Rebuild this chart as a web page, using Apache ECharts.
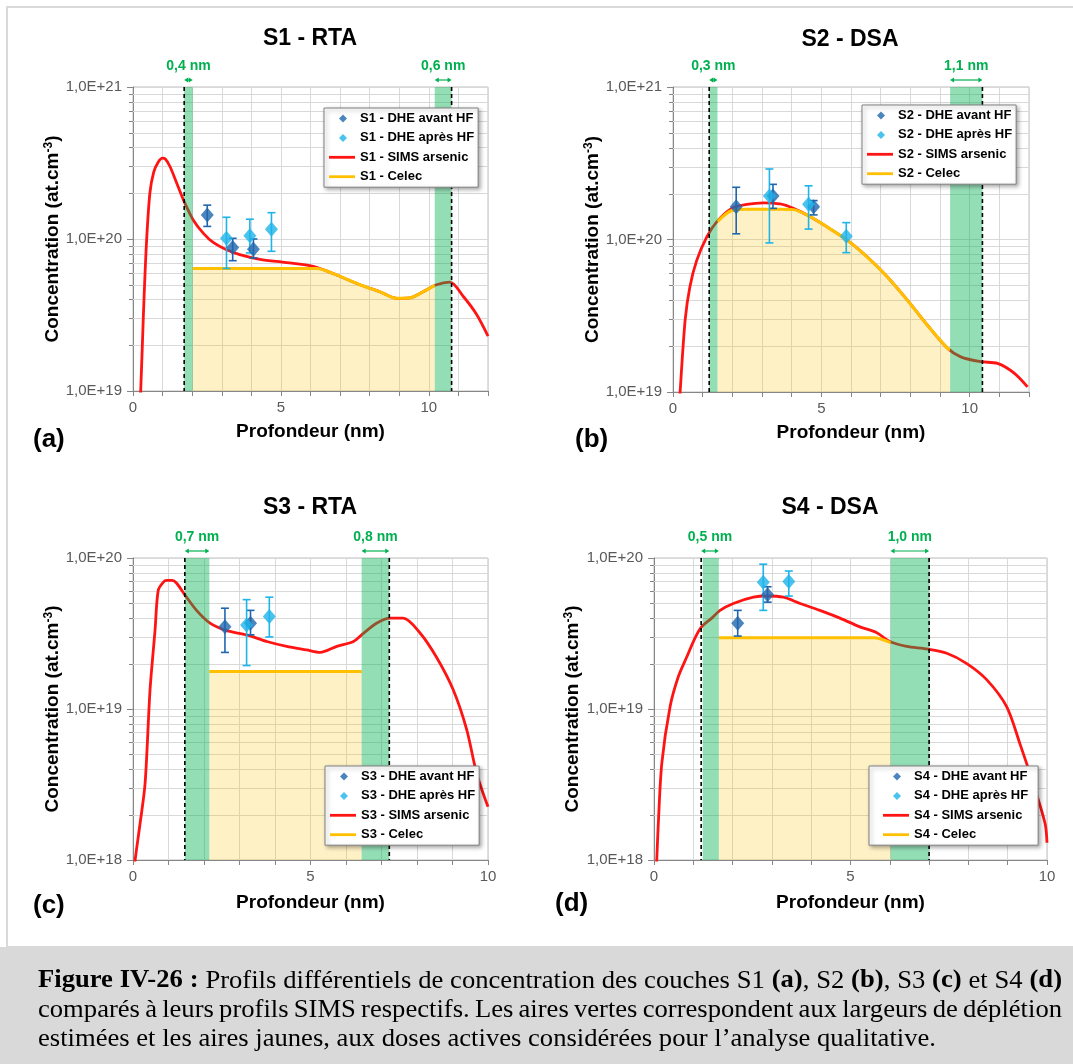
<!DOCTYPE html>
<html><head><meta charset="utf-8">
<script src="https://cdn.jsdelivr.net/npm/echarts@6/dist/echarts.min.js"></script>
<style>html,body{margin:0;padding:0;background:#fff}#c{width:1073px;height:1064px}</style>
</head><body><div id="c"></div>
<script>
// ---------------- DATA ----------------
const titles = ['S1 - RTA', 'S2 - DSA', 'S3 - RTA', 'S4 - DSA'];
const letters = ['(a)', '(b)', '(c)', '(d)'];
const sampleKeys = ['S1', 'S2', 'S3', 'S4'];
const xMaxes = [12, 12, 10, 10];
const yMins = [1e19, 1e19, 1e18, 1e18];
const yMaxs = [1e21, 1e21, 1e20, 1e20];
const xTickLabels = [0, 5, 10];

// SIMS arsenic profiles [depth nm, concentration]
const S1_sims = [[0.22,8e18],[0.26,1.0e19],[0.35,3.1e19],[0.45,9.0e19],[0.57,2.0e20],[0.7,2.75e20],[0.85,3.2e20],[1.0,3.4e20],[1.1,3.35e20],[1.25,3.0e20],[1.53,2.2e20],[1.73,1.76e20],[2.04,1.33e20],[2.38,1.09e20],[2.71,9.5e19],[3.16,8.5e19],[3.61,7.9e19],[4.29,7.35e19],[5.19,7.0e19],[6.09,6.6e19],[6.88,5.8e19],[7.67,5.0e19],[8.34,4.5e19],[8.91,4.07e19],[9.36,4.1e19],[9.81,4.5e19],[10.26,5.0e19],[10.71,5.2e19],[11.16,4.2e19],[11.61,3.2e19],[12.0,2.3e19]];
const S2_sims = [[0.22,8e18],[0.24,1.0e19],[0.41,2.97e19],[0.57,4.9e19],[0.8,7.3e19],[1.14,1.04e20],[1.48,1.31e20],[1.98,1.6e20],[2.49,1.7e20],[3.05,1.74e20],[3.61,1.71e20],[4.06,1.6e20],[4.63,1.41e20],[5.19,1.21e20],[5.87,9.9e19],[6.54,7.7e19],[7.22,5.7e19],[7.9,4.0e19],[8.57,2.75e19],[9.25,1.94e19],[9.7,1.7e19],[10.37,1.58e19],[10.94,1.54e19],[11.5,1.33e19],[11.95,1.08e19]];
const S3_sims = [[0.05,9e17],[0.06,1.0e18],[0.2,1.75e18],[0.34,3.2e18],[0.48,1.34e19],[0.62,3.3e19],[0.71,6.1e19],[0.85,6.9e19],[0.95,7.1e19],[1.1,7.1e19],[1.23,6.8e19],[1.46,5.7e19],[1.79,4.5e19],[2.17,3.7e19],[2.64,3.3e19],[3.2,3.1e19],[3.77,2.8e19],[4.33,2.6e19],[4.89,2.46e19],[5.27,2.37e19],[5.74,2.6e19],[6.21,2.8e19],[6.44,3.1e19],[6.86,3.7e19],[7.24,4.0e19],[7.61,4.0e19],[8.08,3.2e19],[8.55,2.2e19],[9.02,1.34e19],[9.4,7.3e18],[9.68,3.75e18],[10.0,2.25e18]];
const S4_sims = [[0.06,9e17],[0.07,1.0e18],[0.11,1.75e18],[0.2,4.4e18],[0.41,1.04e19],[0.62,1.64e19],[0.83,2.2e19],[1.04,2.94e19],[1.21,3.5e19],[1.47,4.0e19],[1.68,4.5e19],[2.02,5.0e19],[2.53,5.5e19],[2.87,5.6e19],[3.29,5.5e19],[3.72,5.0e19],[4.22,4.5e19],[4.73,4.0e19],[5.24,3.5e19],[5.67,3.2e19],[6.0,2.8e19],[6.43,2.6e19],[6.94,2.5e19],[7.45,2.34e19],[7.96,2.0e19],[8.47,1.56e19],[8.97,1.04e19],[9.31,5.9e18],[9.65,3.2e18],[9.95,1.75e18],[10.0,1.3e18]];

// Celec (active dose) profiles
const S1_celec = [[2.02,6.4e19],[6.2,6.4e19],[6.88,5.8e19],[7.67,5.0e19],[8.34,4.5e19],[8.91,4.07e19],[9.36,4.1e19],[9.81,4.5e19],[10.2,4.95e19]];
const S2_celec = [[1.5,1.31e20],[1.98,1.55e20],[2.5,1.58e20],[3.6,1.58e20],[4.06,1.57e20],[4.63,1.41e20],[5.19,1.21e20],[5.87,9.9e19],[6.54,7.7e19],[7.22,5.7e19],[7.9,4.0e19],[8.57,2.75e19],[9.25,1.94e19],[9.34,1.9e19]];
const S3_celec = [[2.15,1.77e19],[6.44,1.77e19]];
const S4_celec = [[1.65,2.96e19],[5.6,2.96e19],[6.02,2.75e19]];

// DHE points [depth, conc, errLow, errHigh]
const S1_avant = [[2.51,1.44e20,1.21e20,1.67e20],[3.37,8.8e19,7.2e19,1.01e20],[4.07,8.55e19,7.5e19,1.0e20]];
const S1_apres = [[3.16,1.01e20,6.4e19,1.39e20],[3.95,1.05e20,8.1e19,1.35e20],[4.68,1.16e20,8.3e19,1.49e20]];
const S2_avant = [[2.13,1.64e20,1.09e20,2.2e20],[3.37,1.93e20,1.6e20,2.3e20],[4.74,1.64e20,1.45e20,1.8e20]];
const S2_apres = [[3.25,1.93e20,9.5e19,2.9e20],[4.57,1.7e20,1.17e20,2.25e20],[5.84,1.05e20,8.2e19,1.29e20]];
const S3_avant = [[2.59,3.5e19,2.37e19,4.65e19],[3.31,3.7e19,3.1e19,4.5e19]];
const S3_apres = [[3.2,3.6e19,1.94e19,5.3e19],[3.84,4.1e19,3.0e19,5.5e19]];
const S4_avant = [[2.13,3.7e19,3.04e19,4.5e19],[2.89,5.7e19,5.1e19,6.45e19]];
const S4_apres = [[2.78,6.9e19,4.5e19,9.1e19],[3.43,7.0e19,5.6e19,8.2e19]];

// depletion bands [x0, x1, dashed-line x]
const S1_bands = [[1.73,2.02,1.73],[10.2,10.77,10.77]];
const S2_bands = [[1.22,1.5,1.22],[9.34,10.43,10.43]];
const S3_bands = [[1.46,2.15,1.46],[6.44,7.22,7.22]];
const S4_bands = [[1.24,1.65,1.2],[6.02,7.0,7.0]];
const S1_bandLabels = ['0,4 nm','0,6 nm'];
const S2_bandLabels = ['0,3 nm','1,1 nm'];
const S3_bandLabels = ['0,7 nm','0,8 nm'];
const S4_bandLabels = ['0,5 nm','1,0 nm'];

const captionLines = [
  [['Figure IV-26 :',1],[' Profils différentiels de concentration des couches S1 ',0],['(a)',1],[', S2 ',0],['(b)',1],[', S3 ',0],['(c)',1],[' et S4 ',0],['(d)',1]],
  [['comparés à leurs profils SIMS respectifs. Les aires vertes correspondent aux largeurs de déplétion',0]],
  [['estimées et les aires jaunes, aux doses actives considérées pour l’analyse qualitative.',0]]
];

// ---------------- LAYOUT ----------------
const FONT = '"Liberation Sans", Arial, Helvetica, sans-serif';
const SERIF = '"Liberation Serif", "Times New Roman", serif';
const layout = [
  {grid:{left:133,top:87,width:355,height:304}, tx:310, ty:39, lx:33, ly:440, leg:{left:324,top:108,padding:[4,4,4,5]}, gapX:31, gapY:71},
  {grid:{left:673,top:87,width:356,height:305}, tx:850, ty:40, lx:575, ly:440, leg:{left:862,top:105,padding:[4,4,4,5]}, gapX:31, gapY:71},
  {grid:{left:133,top:558,width:355,height:302}, tx:310, ty:508, lx:33, ly:906, leg:{left:325,top:766,padding:[4,4,4,5]}, gapX:33, gapY:71},
  {grid:{left:654,top:558,width:393,height:302}, tx:830, ty:508, lx:555, ly:904, leg:{left:869,top:766,padding:[4,10,4,14]}, gapX:33, gapY:72}
];
const sims = [S1_sims,S2_sims,S3_sims,S4_sims];
const celec = [S1_celec,S2_celec,S3_celec,S4_celec];
const avant = [S1_avant,S2_avant,S3_avant,S4_avant];
const apres = [S1_apres,S2_apres,S3_apres,S4_apres];
const bands = [S1_bands,S2_bands,S3_bands,S4_bands];
const bandLabels = [S1_bandLabels,S2_bandLabels,S3_bandLabels,S4_bandLabels];

const C_RED = '#ff1414', C_YEL = '#ffc000', C_DARK = '#1f66ae', C_LIGHT = '#1db4ea';
const C_GREEN_BAND = 'rgba(0,176,80,0.42)', C_GREEN_TXT = '#00b050';
const GRID_C = '#d9d9d9', AX_C = '#868686';
const DIAMOND = 'path://M0,0M26,12M14,2L18,6L14,10L10,6Z';
const LINEICON = 'path://M0,0M26,12M0,4.6L26,4.6L26,7.4L0,7.4Z';

const grids = [], xAxes = [], yAxes = [], series = [], legends = [], graphics = [];

function crisp(v){ return Math.round(v) + 0.5; }

layout.forEach((L, i) => {
  const key = sampleKeys[i];
  const xMax = xMaxes[i], yMin = yMins[i], yMax = yMaxs[i];
  grids.push(Object.assign({show:true, borderColor:'#bfbfbf', borderWidth:1, backgroundColor:'transparent', containLabel:false}, L.grid));
  xAxes.push({
    type:'value', gridIndex:i, min:0, max:xMax, interval:1,
    name:'Profondeur (nm)', nameLocation:'middle', nameGap:L.gapX,
    nameTextStyle:{fontFamily:FONT, fontSize:19, fontWeight:'bold', color:'#000'},
    axisLine:{show:true, onZero:false, lineStyle:{color:AX_C, width:1}},
    axisTick:{show:true, length:5, lineStyle:{color:AX_C}},
    axisLabel:{fontFamily:FONT, fontSize:15, color:'#595959', margin:9,
      formatter: v => xTickLabels.indexOf(v) >= 0 ? String(v) : ''},
    splitLine:{show:true, lineStyle:{color:GRID_C, width:1}}
  });
  yAxes.push({
    type:'log', logBase:10, gridIndex:i, min:yMin, max:yMax,
    name:'Concentration (at.cm{sup|-3})', nameLocation:'middle', nameGap:L.gapY, nameRotate:90,
    nameTextStyle:{fontFamily:FONT, fontSize:19, fontWeight:'bold', color:'#000',
      rich:{sup:{fontFamily:FONT, fontSize:12, fontWeight:'bold', color:'#000', verticalAlign:'top', lineHeight:12}}},
    axisLine:{show:true, onZero:false, lineStyle:{color:AX_C, width:1}},
    axisTick:{show:true, length:6, lineStyle:{color:AX_C}},
    axisLabel:{fontFamily:FONT, fontSize:15, color:'#595959', margin:11,
      formatter: v => '1,0E+' + Math.round(Math.log10(v))},
    splitLine:{show:true, lineStyle:{color:GRID_C, width:1}}
  });

  // minor log grid lines + minor ticks
  const minors = [];
  for (let d = Math.round(Math.log10(yMin)); d < Math.round(Math.log10(yMax)); d++)
    for (let k = 2; k <= 9; k++) minors.push([0, k * Math.pow(10, d)]);
  series.push({
    type:'custom', xAxisIndex:i, yAxisIndex:i, z:1, silent:true, clip:false,
    data:minors, encode:{x:0, y:1},
    renderItem:(params, api) => {
      const v = api.value(1);
      const a = api.coord([0, v]), b = api.coord([xMax, v]);
      const y = crisp(a[1]);
      return {type:'group', children:[
        {type:'line', shape:{x1:a[0], y1:y, x2:b[0], y2:y}, style:{stroke:GRID_C, lineWidth:1}},
        {type:'line', shape:{x1:a[0]-4, y1:y, x2:a[0], y2:y}, style:{stroke:AX_C, lineWidth:1}}
      ]};
    }
  });

  const nSims = key + ' - SIMS arsenic', nCel = key + ' - Celec';
  const nAv = key + ' - DHE avant HF', nAp = key + ' - DHE après HF';

  series.push({name:nSims, type:'line', xAxisIndex:i, yAxisIndex:i, data:sims[i], symbol:'none', smooth:0.3,
    lineStyle:{color:C_RED, width:2.8}, itemStyle:{color:C_RED}, z:3, silent:true});
  series.push({name:nCel, type:'line', xAxisIndex:i, yAxisIndex:i, data:celec[i], symbol:'none', smooth:0.3,
    lineStyle:{color:C_YEL, width:3}, itemStyle:{color:C_YEL},
    areaStyle:{color:'rgba(255,192,0,0.32)', origin:'start'}, z:4, silent:true});

  // depletion bands, dashed limits and width annotations
  const bl = bandLabels[i];
  series.push({
    type:'custom', xAxisIndex:i, yAxisIndex:i, z:5, silent:true, clip:false,
    data:bands[i].map(b => [b[0], yMin, b[1], b[2]]), encode:{x:0, y:1},
    renderItem:(params, api) => {
      const x0 = api.value(0), x1 = api.value(2), dx = api.value(3);
      const a = api.coord([x0, yMax]), b = api.coord([x1, yMin]);
      const d1 = api.coord([dx, yMax]), d2 = api.coord([dx, yMin]);
      const lo = Math.min(x0, dx), hi = Math.max(x1, dx);
      const pL = api.coord([lo, yMax])[0], pR = api.coord([hi, yMax])[0];
      const ay = a[1] - 7, cx = (pL + pR) / 2;
      const head = 4, hw = 2.6;
      return {type:'group', children:[
        {type:'rect', shape:{x:a[0], y:a[1], width:b[0]-a[0], height:b[1]-a[1]}, style:{fill:C_GREEN_BAND}},
        {type:'line', shape:{x1:d1[0], y1:d1[1], x2:d2[0], y2:d2[1]}, style:{stroke:'#000', lineWidth:1.6, lineDash:[4,3]}},
        {type:'line', shape:{x1:pL+2, y1:ay, x2:pR-2, y2:ay}, style:{stroke:C_GREEN_TXT, lineWidth:1.2}},
        {type:'polygon', shape:{points:[[pL,ay],[pL+head,ay-hw],[pL+head,ay+hw]]}, style:{fill:C_GREEN_TXT}},
        {type:'polygon', shape:{points:[[pR,ay],[pR-head,ay-hw],[pR-head,ay+hw]]}, style:{fill:C_GREEN_TXT}},
        {type:'text', x:cx, y:a[1]-21, style:{text:bl[params.dataIndex], fill:C_GREEN_TXT,
          font:'bold 14px ' + FONT, align:'center', verticalAlign:'middle', textAlign:'center', textVerticalAlign:'middle'}}
      ]};
    }
  });

  // error bars
  [[avant[i], C_DARK], [apres[i], C_LIGHT]].forEach(([arr, col]) => {
    series.push({
      type:'custom', xAxisIndex:i, yAxisIndex:i, z:6, silent:true, clip:false,
      data:arr, encode:{x:0, y:1},
      renderItem:(params, api) => {
        const x = api.value(0);
        const p1 = api.coord([x, api.value(3)]), p2 = api.coord([x, api.value(2)]);
        const w = 4, st = {stroke:col, lineWidth:1.6};
        return {type:'group', children:[
          {type:'line', shape:{x1:p1[0], y1:p1[1], x2:p2[0], y2:p2[1]}, style:st},
          {type:'line', shape:{x1:p1[0]-w, y1:p1[1], x2:p1[0]+w, y2:p1[1]}, style:st},
          {type:'line', shape:{x1:p2[0]-w, y1:p2[1], x2:p2[0]+w, y2:p2[1]}, style:st}
        ]};
      }
    });
  });
  series.push({name:nAv, type:'scatter', xAxisIndex:i, yAxisIndex:i, data:avant[i].map(p => [p[0], p[1]]),
    symbol:'diamond', symbolSize:[13,15], itemStyle:{color:C_DARK}, z:7, silent:true});
  series.push({name:nAp, type:'scatter', xAxisIndex:i, yAxisIndex:i, data:apres[i].map(p => [p[0], p[1]]),
    symbol:'diamond', symbolSize:[13,15], itemStyle:{color:C_LIGHT}, z:7, silent:true});

  legends.push({
    orient:'vertical', left:L.leg.left, top:L.leg.top, padding:L.leg.padding, z:20,
    itemGap:6.4, itemWidth:26, itemHeight:12, selectedMode:false,
    backgroundColor:'#fff', borderColor:'#808080', borderWidth:1,
    shadowBlur:4, shadowColor:'rgba(0,0,0,0.35)', shadowOffsetX:2, shadowOffsetY:2,
    textStyle:{fontFamily:FONT, fontSize:13, fontWeight:'bold', color:'#000'},
    data:[{name:nAv, icon:DIAMOND, itemStyle:{color:C_DARK}}, {name:nAp, icon:DIAMOND, itemStyle:{color:C_LIGHT}},
          {name:nSims, icon:LINEICON, itemStyle:{color:C_RED}}, {name:nCel, icon:LINEICON, itemStyle:{color:C_YEL}}]
  });

  graphics.push({type:'text', x:L.tx, y:L.ty, z:10, style:{text:titles[i], font:'bold 23px ' + FONT, fill:'#000',
    align:'center', verticalAlign:'middle', textAlign:'center', textVerticalAlign:'middle'}});
  graphics.push({type:'text', x:L.lx, y:L.ly, z:10, style:{text:letters[i], font:'bold 26px ' + FONT, fill:'#000',
    align:'left', verticalAlign:'middle', textAlign:'left', textVerticalAlign:'middle'}});
});

// frame + caption (justified lines, condensed serif)
graphics.push({type:'rect', z:0, shape:{x:7, y:7, width:1100, height:940}, style:{fill:'none', stroke:'#dadada', lineWidth:2}});
graphics.push({type:'rect', z:0, shape:{x:0, y:947, width:1073, height:117}, style:{fill:'#d9d9d9'}});
const CAP_SIZE = 25;
const mctx = document.createElement('canvas').getContext('2d');
function segW(t, b){ mctx.font = (b ? 'bold ' : '') + CAP_SIZE + 'px ' + SERIF; return mctx.measureText(t).width; }
function toWords(parts){
  const words = []; let cur = [];
  parts.forEach(([t, b]) => {
    t.split(' ').forEach((tok, j) => {
      if (j > 0) { if (cur.length) words.push(cur); cur = []; }
      if (tok !== '') cur.push([tok, b]);
    });
  });
  if (cur.length) words.push(cur);
  return words;
}
const capLeft = 38, capRight = 1062, lastLineEnd = 936;
const lineWords = captionLines.map(toWords);
const spaceW = segW(' ', 0);
const natLast = lineWords[2].reduce((s, w) => s + w.reduce((a, [t, b]) => a + segW(t, b), 0), 0) + spaceW * (lineWords[2].length - 1);
const capScale = (lastLineEnd - capLeft) / natLast;
const capY = [981, 1010, 1039];
lineWords.forEach((words, k) => {
  const widths = words.map(w => w.reduce((a, [t, b]) => a + segW(t, b), 0) * capScale);
  const total = widths.reduce((a, b) => a + b, 0);
  const gap = k < 2 ? (capRight - capLeft - total) / (words.length - 1) : spaceW * capScale;
  let x = capLeft;
  words.forEach((w, j) => {
    const txt = w.map(([t, b]) => '{' + (b ? 'b' : 'n') + '|' + t + '}').join('');
    graphics.push({type:'text', x:x, y:capY[k], scaleX:capScale, z:10, style:{
      text:txt, font:CAP_SIZE + 'px ' + SERIF, fill:'#000', verticalAlign:'middle', textVerticalAlign:'middle',
      rich:{
        b:{fontFamily:SERIF, fontSize:CAP_SIZE, fontWeight:'bold', fill:'#000', color:'#000'},
        n:{fontFamily:SERIF, fontSize:CAP_SIZE, fontWeight:'normal', fill:'#000', color:'#000'}
      }}});
    x += widths[j] + gap;
  });
});

const chart = echarts.init(document.getElementById('c'), null, {renderer:'canvas'});
chart.setOption({
  animation:false,
  backgroundColor:'#fff',
  grid:grids, xAxis:xAxes, yAxis:yAxes, legend:legends, series:series, graphic:graphics
});
</script></body></html>
